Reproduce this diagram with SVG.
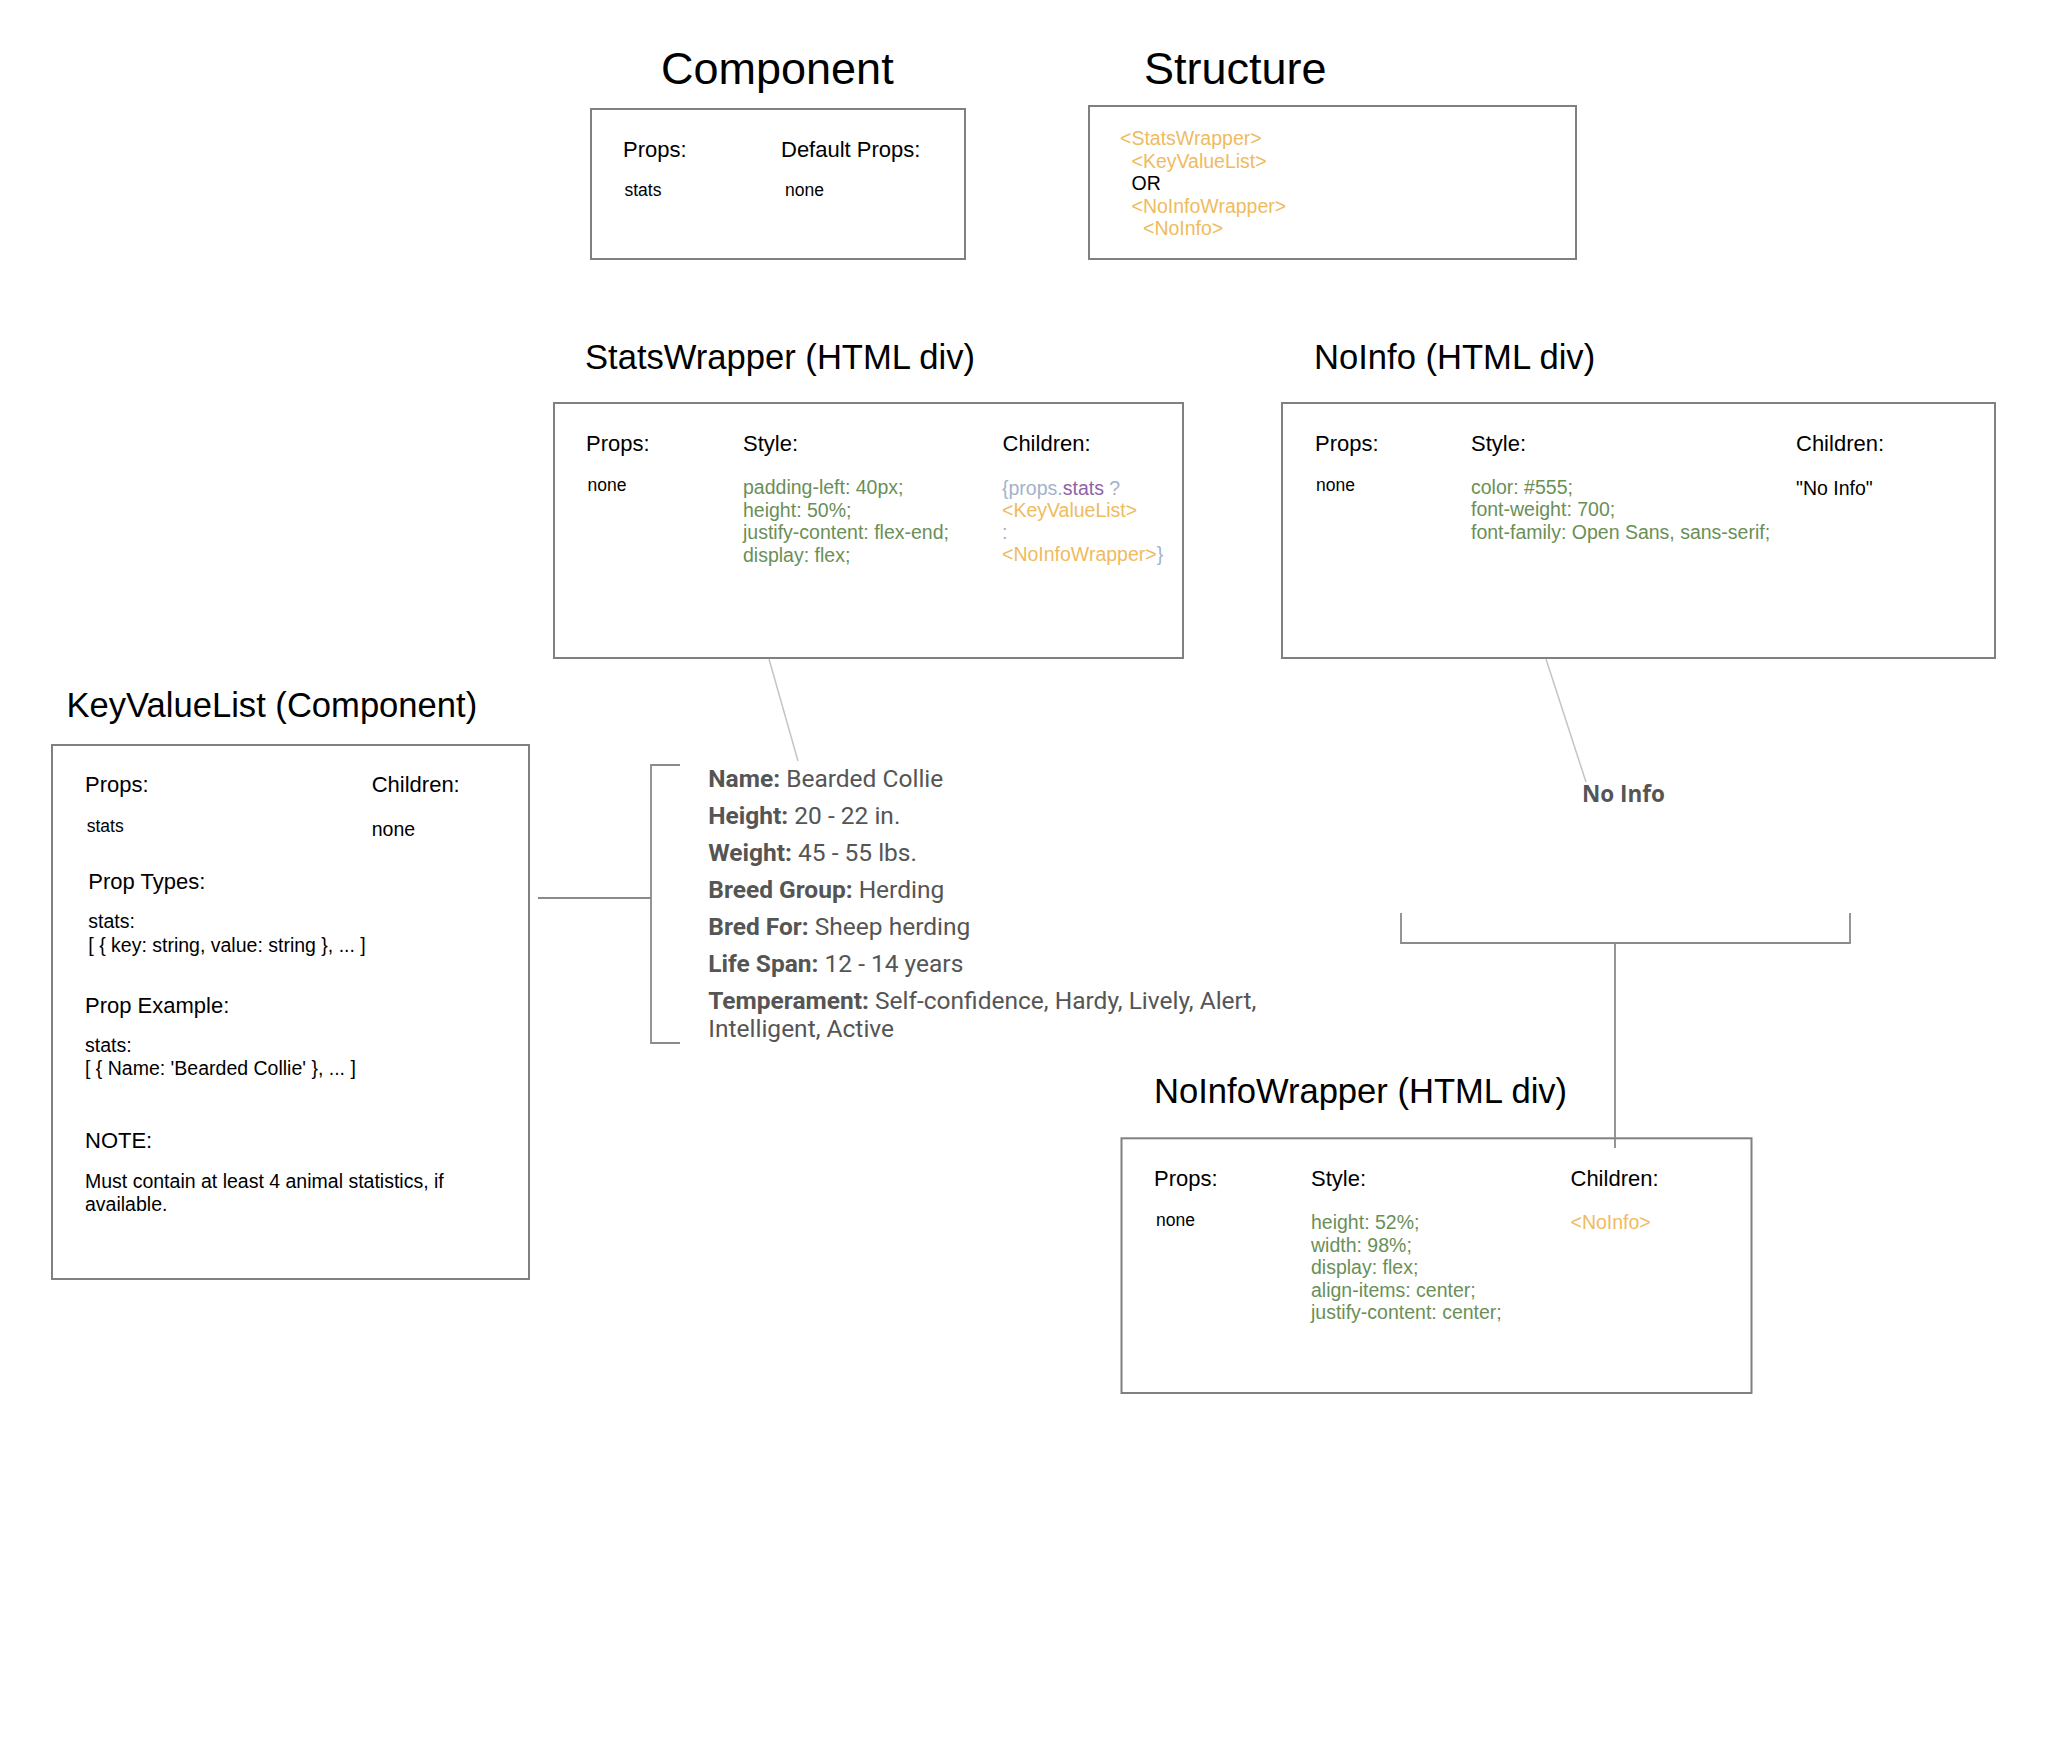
<svg xmlns="http://www.w3.org/2000/svg" width="2045" height="1738" viewBox="0 0 2045 1738">
<style>
text { font-family: "Liberation Sans", Arial, sans-serif; fill: #000; }
.h1 { font-size: 45px; }
.title { font-size: 34.6px; }
.lbl { font-size: 22px; }
.sm { font-size: 17.5px; }
.code { font-size: 19.5px; }
.green { fill: #6a8f57; }
.orange { fill: #efbb60; }
.blue { fill: #a3b2c8; }
.purple { fill: #8e63a6; }
.box { fill: #fff; stroke: #808080; stroke-width: 2; }
.thin { stroke: #c4c4c4; stroke-width: 1.5; fill: none; }
.brk { stroke: #8a8a8a; stroke-width: 1.8; fill: none; }
.list { font-family: Roboto, "Liberation Sans", sans-serif; font-size: 24.5px; fill: #555; }
.noinfo { font-family: "Open Sans", "Liberation Sans", sans-serif; font-weight: 700; font-size: 22.5px; fill: #555; }
</style>
<rect x="0" y="0" width="2045" height="1738" fill="#fff"/>

<g id="component">
  <text class="h1" x="661" y="84">Component</text>
  <rect class="box" x="591" y="109" width="374" height="150"/>
  <text class="lbl" x="623" y="157">Props:</text>
  <text class="lbl" x="781" y="157">Default Props:</text>
  <text class="sm" x="624.5" y="196">stats</text>
  <text class="sm" x="785" y="196">none</text>
</g>

<g id="structure">
  <text class="h1" x="1144" y="84">Structure</text>
  <rect class="box" x="1089" y="106" width="487" height="153"/>
  <text class="code orange" x="1120" y="145.3">&lt;StatsWrapper&gt;</text>
  <text class="code orange" x="1131.5" y="167.8">&lt;KeyValueList&gt;</text>
  <text class="code" x="1131.5" y="190.3">OR</text>
  <text class="code orange" x="1131.5" y="212.8">&lt;NoInfoWrapper&gt;</text>
  <text class="code orange" x="1143" y="235.3">&lt;NoInfo&gt;</text>
</g>

<g id="statswrapper">
  <text class="title" x="585" y="369">StatsWrapper (HTML div)</text>
  <rect class="box" x="554" y="403" width="629" height="255"/>
  <text class="lbl" x="586" y="451">Props:</text>
  <text class="lbl" x="743" y="451">Style:</text>
  <text class="lbl" x="1002.5" y="451">Children:</text>
  <text class="sm" x="587.5" y="491">none</text>
  <text class="code green" x="743" y="494">padding-left: 40px;</text>
  <text class="code green" x="743" y="516.5">height: 50%;</text>
  <text class="code green" x="743" y="539">justify-content: flex-end;</text>
  <text class="code green" x="743" y="561.5">display: flex;</text>
  <text class="code" x="1002" y="495"><tspan class="blue">{props.</tspan><tspan class="purple">stats</tspan><tspan class="blue"> ?</tspan></text>
  <text class="code orange" x="1002" y="517">&lt;KeyValueList&gt;</text>
  <text class="code blue" x="1002" y="538.5">:</text>
  <text class="code" x="1002" y="560.5"><tspan class="orange">&lt;NoInfoWrapper&gt;</tspan><tspan class="blue">}</tspan></text>
</g>

<g id="noinfo">
  <text class="title" x="1314" y="369">NoInfo (HTML div)</text>
  <rect class="box" x="1282" y="403" width="713" height="255"/>
  <text class="lbl" x="1315" y="451">Props:</text>
  <text class="lbl" x="1471" y="451">Style:</text>
  <text class="lbl" x="1796" y="451">Children:</text>
  <text class="sm" x="1316" y="491">none</text>
  <text class="code green" x="1471" y="493.5">color: #555;</text>
  <text class="code green" x="1471" y="516">font-weight: 700;</text>
  <text class="code green" x="1471" y="538.5">font-family: Open Sans, sans-serif;</text>
  <text class="code" x="1796" y="494.5">"No Info"</text>
</g>

<g id="keyvaluelist">
  <text class="title" x="66.5" y="716.6">KeyValueList (Component)</text>
  <rect class="box" x="52" y="745" width="477" height="534"/>
  <text class="lbl" x="85" y="792.4">Props:</text>
  <text class="lbl" x="371.7" y="792.4">Children:</text>
  <text class="sm" x="86.7" y="832">stats</text>
  <text class="code" x="371.7" y="836">none</text>
  <text class="lbl" x="88.3" y="888.8">Prop Types:</text>
  <text class="code" x="88.3" y="928.4">stats:</text>
  <text class="code" x="88.3" y="951.8">[ { key: string, value: string }, ... ]</text>
  <text class="lbl" x="85" y="1012.5">Prop Example:</text>
  <text class="code" x="85" y="1051.5">stats:</text>
  <text class="code" x="85" y="1075">[ { Name: 'Bearded Collie' }, ... ]</text>
  <text class="lbl" x="85" y="1148.4">NOTE:</text>
  <text class="code" x="85" y="1187.8">Must contain at least 4 animal statistics, if</text>
  <text class="code" x="85" y="1210.8">available.</text>
</g>

<g id="stats-list">
  <text class="list" x="708.3" y="786.7"><tspan font-weight="700">Name:</tspan> Bearded Collie</text>
  <text class="list" x="708.3" y="823.8"><tspan font-weight="700">Height:</tspan> 20 - 22 in.</text>
  <text class="list" x="708.3" y="860.9"><tspan font-weight="700">Weight:</tspan> 45 - 55 lbs.</text>
  <text class="list" x="708.3" y="897.8"><tspan font-weight="700">Breed Group:</tspan> Herding</text>
  <text class="list" x="708.3" y="935"><tspan font-weight="700">Bred For:</tspan> Sheep herding</text>
  <text class="list" x="708.3" y="972"><tspan font-weight="700">Life Span:</tspan> 12 - 14 years</text>
  <text class="list" x="708.3" y="1009"><tspan font-weight="700">Temperament:</tspan> Self-confidence, Hardy, Lively, Alert,</text>
  <text class="list" x="708.3" y="1037">Intelligent, Active</text>
</g>

<g id="noinfo-render">
  <text class="noinfo" x="1582" y="802">No Info</text>
</g>

<g id="noinfowrapper">
  <text class="title" x="1154" y="1103.3">NoInfoWrapper (HTML div)</text>
  <rect class="box" x="1121.5" y="1138.3" width="630" height="254.7"/>
  <text class="lbl" x="1154" y="1186">Props:</text>
  <text class="lbl" x="1311" y="1186">Style:</text>
  <text class="lbl" x="1570.5" y="1186">Children:</text>
  <text class="sm" x="1156" y="1226">none</text>
  <text class="code green" x="1311" y="1229">height: 52%;</text>
  <text class="code green" x="1311" y="1251.5">width: 98%;</text>
  <text class="code green" x="1311" y="1274">display: flex;</text>
  <text class="code green" x="1311" y="1296.5">align-items: center;</text>
  <text class="code green" x="1311" y="1319">justify-content: center;</text>
  <text class="code orange" x="1570.5" y="1229">&lt;NoInfo&gt;</text>
</g>

<g id="connectors">
  <line class="thin" x1="769" y1="659" x2="798" y2="761"/>
  <path class="brk" d="M538,898 H651 M680,765 H651 V1043 H680"/>
  <line class="thin" x1="1546" y1="659" x2="1586" y2="782"/>
  <path class="brk" d="M1401,913 V943 H1850 V913 M1615,943 V1148"/>
</g>
</svg>
